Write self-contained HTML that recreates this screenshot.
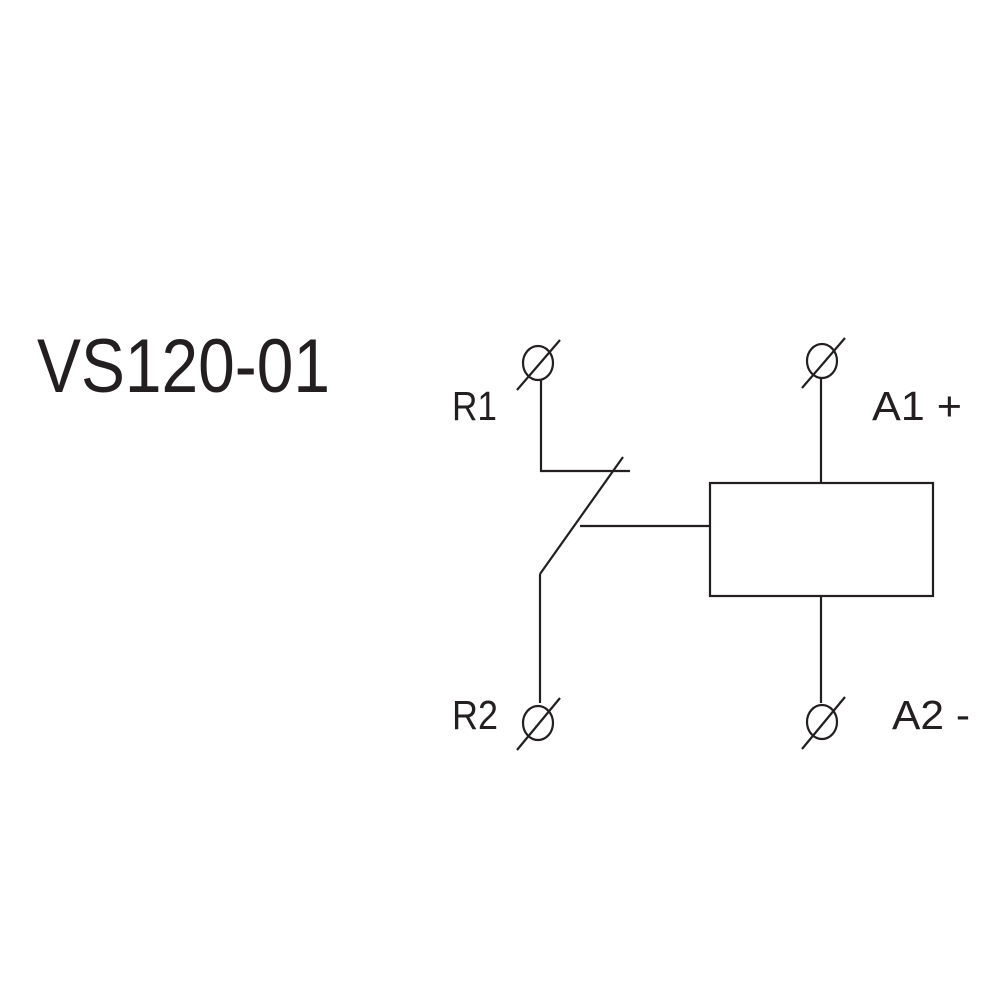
<!DOCTYPE html>
<html><head><style>html,body{margin:0;padding:0;background:#fff}</style></head>
<body>
<svg width="1000" height="1000" viewBox="0 0 1000 1000" xmlns="http://www.w3.org/2000/svg">
<rect width="1000" height="1000" fill="#fff"/>
<g fill="none" stroke="#231f20" stroke-width="2.2">
  <ellipse cx="538" cy="363" rx="15" ry="17"/>
  <line x1="517" y1="390" x2="560" y2="340"/>
  <polyline points="541,380 541,471 630,471"/>
  <line x1="623" y1="457" x2="540" y2="574"/>
  <line x1="540" y1="574" x2="540" y2="703"/>
  <line x1="580" y1="526" x2="710" y2="526"/>
  <ellipse cx="538" cy="723" rx="15" ry="17"/>
  <line x1="517" y1="750" x2="560" y2="698"/>
  <ellipse cx="822" cy="361" rx="15" ry="17"/>
  <line x1="802" y1="388" x2="845" y2="338"/>
  <line x1="821" y1="378" x2="821" y2="483"/>
  <rect x="710" y="483" width="223" height="113"/>
  <line x1="821" y1="596" x2="821" y2="703"/>
  <ellipse cx="822" cy="722" rx="15" ry="17"/>
  <line x1="802" y1="749" x2="845" y2="697"/>
</g>
<g fill="#231f20" font-family="Liberation Sans, sans-serif">
  <text x="37" y="392" font-size="76" textLength="293" lengthAdjust="spacingAndGlyphs">VS120-01</text>
  <text x="452" y="420" font-size="41" textLength="45" lengthAdjust="spacingAndGlyphs">R1</text>
  <text x="872" y="420" font-size="41" textLength="90" lengthAdjust="spacingAndGlyphs">A1 +</text>
  <text x="452" y="729" font-size="41" textLength="46" lengthAdjust="spacingAndGlyphs">R2</text>
  <text x="892" y="729" font-size="41" textLength="78" lengthAdjust="spacingAndGlyphs">A2 -</text>
</g>
</svg>
</body></html>
